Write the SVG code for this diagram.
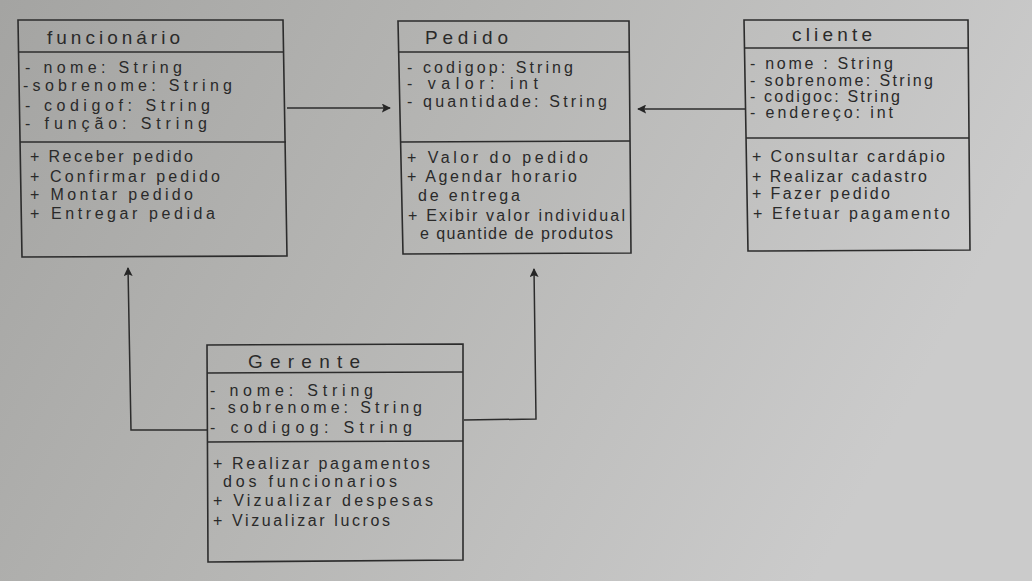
<svg xmlns="http://www.w3.org/2000/svg" width="1032" height="581" viewBox="0 0 1032 581">
<defs>
<linearGradient id="bg" x1="0" y1="0" x2="1" y2="0.3">
<stop offset="0" stop-color="#a4a4a2"/>
<stop offset="0.45" stop-color="#b5b5b3"/>
<stop offset="1" stop-color="#cbcbcb"/>
</linearGradient>
<marker id="arr" viewBox="0 0 10 10" refX="9" refY="5" markerWidth="9" markerHeight="9" markerUnits="userSpaceOnUse" orient="auto">
<path d="M0,0 L10,5 L0,10 L2,5 z" fill="#262626"/>
</marker>
<style>
.box{fill:none;stroke:#2c2c2c;stroke-width:1.6}
.div{stroke:#2c2c2c;stroke-width:1.4}
.t{font-family:"Liberation Sans","DejaVu Sans",sans-serif;font-size:16px;fill:#2a2a2a}
.h{font-family:"Liberation Sans","DejaVu Sans",sans-serif;font-size:19px;fill:#2a2a2a}
.c{fill:none;stroke:#2c2c2c;stroke-width:1.5;marker-end:url(#arr)}
</style>
</defs>
<rect width="1032" height="581" fill="url(#bg)"/>

<g id="funcionario">
<path class="box" d="M18,20 L283,20 L287,256 L22,257 Z"/>
<line class="div" x1="19" y1="52" x2="284" y2="52"/>
<line class="div" x1="20" y1="142" x2="286" y2="142"/>
<text class="h" x="47" y="44" textLength="133" lengthAdjust="spacing">funcionário</text>
<text class="t" x="25" y="73" textLength="157" lengthAdjust="spacing">- nome: String</text>
<text class="t" x="23" y="91" textLength="209" lengthAdjust="spacing">-sobrenome: String</text>
<text class="t" x="25" y="111" textLength="185" lengthAdjust="spacing">- codigof: String</text>
<text class="t" x="25" y="129" textLength="182" lengthAdjust="spacing">- função: String</text>
<text class="t" x="30" y="162" textLength="163" lengthAdjust="spacing">+ Receber pedido</text>
<text class="t" x="30" y="182" textLength="190" lengthAdjust="spacing">+ Confirmar pedido</text>
<text class="t" x="30" y="200" textLength="163" lengthAdjust="spacing">+ Montar pedido</text>
<text class="t" x="30" y="219" textLength="185" lengthAdjust="spacing">+ Entregar pedida</text>
</g>

<g id="pedido">
<path class="box" d="M398,21 L629,21 L631,253 L403,254 Z"/>
<line class="div" x1="398" y1="52" x2="629" y2="52"/>
<line class="div" x1="400" y1="142" x2="630" y2="141"/>
<text class="h" x="425" y="44" textLength="83" lengthAdjust="spacing">Pedido</text>
<text class="t" x="407" y="73" textLength="166" lengthAdjust="spacing">- codigop: String</text>
<text class="t" x="407" y="89" textLength="131" lengthAdjust="spacing">- valor: int</text>
<text class="t" x="407" y="107" textLength="200" lengthAdjust="spacing">- quantidade: String</text>
<text class="t" x="407" y="163" textLength="181" lengthAdjust="spacing">+ Valor do pedido</text>
<text class="t" x="407" y="182" textLength="170" lengthAdjust="spacing">+ Agendar horario</text>
<text class="t" x="418" y="201" textLength="102" lengthAdjust="spacing">de entrega</text>
<text class="t" x="408" y="221" textLength="217" lengthAdjust="spacing">+ Exibir valor individual</text>
<text class="t" x="420" y="239" textLength="193" lengthAdjust="spacing">e quantide de produtos</text>
</g>

<g id="cliente">
<path class="box" d="M744,20 L968,20 L970,250 L748,251 Z"/>
<line class="div" x1="745" y1="48" x2="968" y2="48"/>
<line class="div" x1="746" y1="138" x2="969" y2="138"/>
<text class="h" x="792" y="41" textLength="80" lengthAdjust="spacing">cliente</text>
<text class="t" x="750" y="69" textLength="143" lengthAdjust="spacing">- nome : String</text>
<text class="t" x="750" y="86" textLength="183" lengthAdjust="spacing">- sobrenome: String</text>
<text class="t" x="750" y="102" textLength="150" lengthAdjust="spacing">- codigoc: String</text>
<text class="t" x="750" y="118" textLength="143" lengthAdjust="spacing">- endereço: int</text>
<text class="t" x="752" y="162" textLength="193" lengthAdjust="spacing">+ Consultar cardápio</text>
<text class="t" x="752" y="182" textLength="175" lengthAdjust="spacing">+ Realizar cadastro</text>
<text class="t" x="752" y="199" textLength="138" lengthAdjust="spacing">+ Fazer pedido</text>
<text class="t" x="753" y="219" textLength="197" lengthAdjust="spacing">+ Efetuar pagamento</text>
</g>

<g id="gerente">
<path class="box" d="M207,345 L463,344 L463,560 L208,562 Z"/>
<line class="div" x1="207" y1="373" x2="463" y2="372"/>
<line class="div" x1="207" y1="442" x2="463" y2="441"/>
<text class="h" x="248" y="368" textLength="112" lengthAdjust="spacing">Gerente</text>
<text class="t" x="210" y="396" textLength="163" lengthAdjust="spacing">- nome: String</text>
<text class="t" x="210" y="413" textLength="212" lengthAdjust="spacing">- sobrenome: String</text>
<text class="t" x="210" y="433" textLength="202" lengthAdjust="spacing">- codigog: String</text>
<text class="t" x="213" y="469" textLength="217" lengthAdjust="spacing">+ Realizar pagamentos</text>
<text class="t" x="223" y="487" textLength="174" lengthAdjust="spacing">dos funcionarios</text>
<text class="t" x="213" y="506" textLength="220" lengthAdjust="spacing">+ Vizualizar despesas</text>
<text class="t" x="213" y="526" textLength="177" lengthAdjust="spacing">+ Vizualizar lucros</text>
</g>

<g id="connectors">
<path class="c" d="M287,108 L390,108"/>
<path class="c" d="M745,109 L638,109"/>
<path class="c" d="M207,430 L131,430 L128,268"/>
<path class="c" d="M464,420 L536,419 L534,269"/>
</g>
</svg>
